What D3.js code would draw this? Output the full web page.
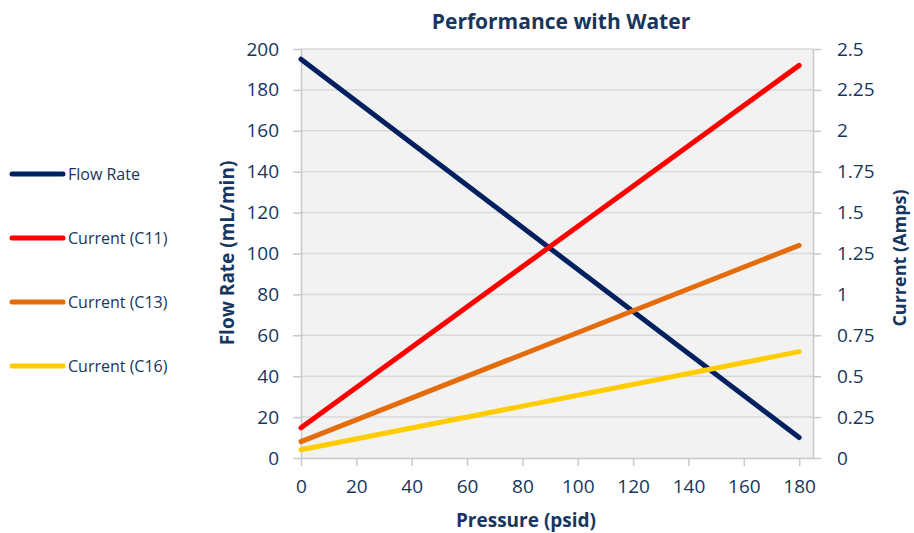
<!DOCTYPE html>
<html>
<head>
<meta charset="utf-8">
<script src="https://d3js.org/d3.v7.min.js"></script>
<style>
  body { margin: 0; background: #fff; }
  text { font-family: "Open Sans", "Noto Sans", sans-serif; fill: #17365d; }
</style>
</head>
<body>
<svg id="chart" width="914" height="533"></svg>
<script>
// values
let pressure = [0, 180];
let flowRate = [195, 10];         // mL/min, left axis
let currentC11 = [0.185, 2.4];    // Amps, right axis
let currentC13 = [0.1, 1.3];
let currentC16 = [0.05, 0.65];
let xTicks = [0, 20, 40, 60, 80, 100, 120, 140, 160, 180];
let leftTicks = [0, 20, 40, 60, 80, 100, 120, 140, 160, 180, 200];
let rightTicks = [0, 0.25, 0.5, 0.75, 1, 1.25, 1.5, 1.75, 2, 2.25, 2.5];

let series = [
  { name: "Flow Rate", values: flowRate, axis: "left", color: "#002060" },
  { name: "Current (C11)", values: currentC11, axis: "right", color: "#ff0000" },
  { name: "Current (C13)", values: currentC13, axis: "right", color: "#e46c0a" },
  { name: "Current (C16)", values: currentC16, axis: "right", color: "#ffcc00" }
];

let svg = d3.select("#chart");
let plotLeft = 301, plotRight = 813, plotTop = 49, plotBottom = 458;

let x = d3.scaleLinear().domain([0, 185]).range([plotLeft, plotRight]);
let yL = d3.scaleLinear().domain([0, 200]).range([plotBottom, plotTop]);
let yR = d3.scaleLinear().domain([0, 2.5]).range([plotBottom, plotTop]);

// plot background
svg.append("rect")
  .attr("x", plotLeft).attr("y", plotTop)
  .attr("width", plotRight - plotLeft).attr("height", plotBottom - plotTop)
  .attr("fill", "#f2f2f2");

// gridlines
svg.append("g").selectAll("line")
  .data(leftTicks.slice(1))
  .enter().append("line")
  .attr("x1", plotLeft).attr("x2", plotRight)
  .attr("y1", d => yL(d)).attr("y2", d => yL(d))
  .attr("stroke", "#d9d9d9").attr("stroke-width", 1.5);

// axes
let axisStyle = function (g) {
  g.select(".domain").attr("stroke", "#c8c8c8").attr("stroke-width", 1.5);
  g.selectAll(".tick line").attr("stroke", "#c8c8c8").attr("stroke-width", 1.5);
  g.selectAll(".tick text").style("font-size", "19px").attr("fill", "#17365d");
};

svg.append("g")
  .attr("transform", "translate(0," + plotBottom + ")")
  .call(d3.axisBottom(x).tickValues(xTicks).tickSize(8).tickSizeOuter(0).tickPadding(14))
  .call(axisStyle)
  .call(g => g.select(".domain").attr("d", "M" + plotLeft + ",0.5H" + plotRight));

svg.append("g")
  .attr("transform", "translate(" + plotLeft + ",0)")
  .call(d3.axisLeft(yL).tickValues(leftTicks).tickSize(8).tickSizeOuter(0).tickPadding(14))
  .call(axisStyle);

svg.append("g")
  .attr("transform", "translate(" + plotRight + ",0)")
  .call(d3.axisRight(yR).tickValues(rightTicks).tickSize(8).tickSizeOuter(0).tickPadding(16)
    .tickFormat(d => String(d)))
  .call(axisStyle);

// lines
let line = function (s) {
  let yScale = s.axis === "left" ? yL : yR;
  return d3.line()
    .x((d, i) => x(pressure[i]))
    .y(d => yScale(d))(s.values);
};

svg.append("g").selectAll("path")
  .data(series)
  .enter().append("path")
  .attr("d", line)
  .attr("fill", "none")
  .attr("stroke", d => d.color)
  .attr("stroke-width", 5)
  .attr("stroke-linecap", "round");

// title
svg.append("text")
  .attr("x", 561).attr("y", 29)
  .attr("text-anchor", "middle")
  .style("font-size", "21px").style("font-weight", "bold")
  .text("Performance with Water");

// axis titles
svg.append("text")
  .attr("x", 526).attr("y", 527)
  .attr("text-anchor", "middle")
  .style("font-size", "19px").style("font-weight", "bold")
  .text("Pressure (psid)");

svg.append("text")
  .attr("transform", "translate(234," + 253 + ") rotate(-90)")
  .attr("text-anchor", "middle")
  .style("font-size", "19px").style("font-weight", "bold")
  .text("Flow Rate (mL/min)");

svg.append("text")
  .attr("transform", "translate(906," + 258 + ") rotate(-90)")
  .attr("text-anchor", "middle")
  .style("font-size", "18px").style("font-weight", "bold")
  .text("Current (Amps)");

// legend
let legend = svg.append("g").selectAll("g")
  .data(series)
  .enter().append("g")
  .attr("transform", (d, i) => "translate(0," + (174 + i * 64) + ")");

legend.append("line")
  .attr("x1", 12).attr("x2", 63)
  .attr("stroke", d => d.color)
  .attr("stroke-width", 5)
  .attr("stroke-linecap", "round");

legend.append("text")
  .attr("x", 68).attr("dy", "0.35em")
  .style("font-size", "16px")
  .text(d => d.name);
</script>
</body>
</html>
